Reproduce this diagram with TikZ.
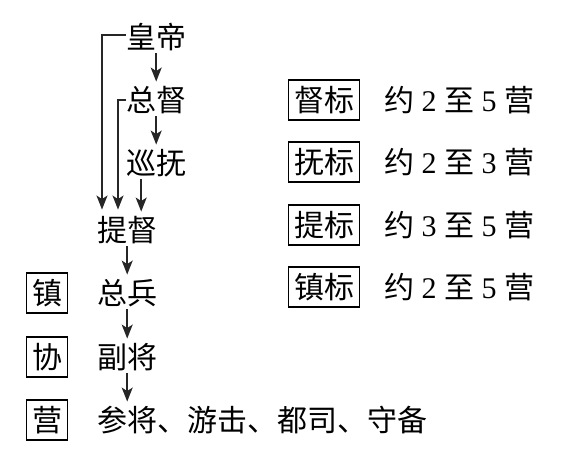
\documentclass[tikz,border=0pt]{standalone}
\usepackage{fontspec}
\setmainfont{Liberation Serif}
\newfontfamily\cjk{Noto Sans CJK SC}
\usetikzlibrary{arrows.meta}
\begin{document}
\begin{tikzpicture}[x=1pt,y=-1pt,
  lbl/.style={inner sep=0pt,font=\fontsize{30}{32}\selectfont\cjk,text height=25.5pt,text depth=3pt,anchor=west},
  boxed/.style={draw,line width=1.3pt,inner xsep=5.5pt,inner ysep=5.75pt,font=\fontsize{30}{32}\selectfont\cjk,text height=25.5pt,text depth=3pt},
  note/.style={inner sep=0pt,font=\fontsize{30}{32}\selectfont,text height=25.5pt,text depth=3pt,anchor=west},
  arr/.style={draw=black!85,line width=1.5pt,-{Stealth[length=14pt,width=11pt,inset=3.5pt]}},
  conn/.style={arr,shorten <=2pt,shorten >=4pt}]
\useasboundingbox (0,0) rectangle (566,458);
% hierarchy
\node[lbl] (hd) at (126,37) {皇帝};
\node[lbl] (zd) at (126,100) {总督};
\node[lbl] (xf) at (126,163) {巡抚};
\node[lbl] (td) at (97,230) {提督};
\node[lbl] (zb) at (97,293) {总兵};
\node[lbl] (fj) at (97,357) {副将};
\node[lbl] (cj) at (97,420) {参将、游击、都司、守备};
% left boxes
\node[boxed] (bz) at (47,293) {镇};
\node[boxed] (bx) at (47,357) {协};
\node[boxed] (by) at (47,420) {营};
% right boxes
\node[boxed] (r1) at (324,100) {督标};
\node[boxed] (r2) at (324,162) {抚标};
\node[boxed] (r3) at (324,225) {提标};
\node[boxed] (r4) at (324,287) {镇标};
\node[note] (n1) at (384,100) {{\cjk 约} 2 {\cjk 至} 5 {\cjk 营}};
\node[note] (n2) at (384,162) {{\cjk 约} 2 {\cjk 至} 3 {\cjk 营}};
\node[note] (n3) at (384,225) {{\cjk 约} 3 {\cjk 至} 5 {\cjk 营}};
\node[note] (n4) at (384,287) {{\cjk 约} 2 {\cjk 至} 5 {\cjk 营}};
% arrows
\draw[conn] (zd.north |- hd.south) -- (zd.north);
\draw[conn] (zd.south) -- (zd.south |- xf.north);
\draw[conn] ([xshift=14pt]td.north |- xf.south) -- ([xshift=14pt]td.north);
\draw[conn] (zb.north |- td.south) -- (zb.north);
\draw[conn] (zb.south) -- (fj.north);
\draw[conn] (fj.south) -- (fj.south |- cj.north);
\draw[arr] ([yshift=2pt]hd.west) -| ([xshift=5pt,yshift=6pt]td.north west);
\draw[arr] (zd.west) -| ([xshift=21pt,yshift=6pt]td.north west);
\end{tikzpicture}
\end{document}
